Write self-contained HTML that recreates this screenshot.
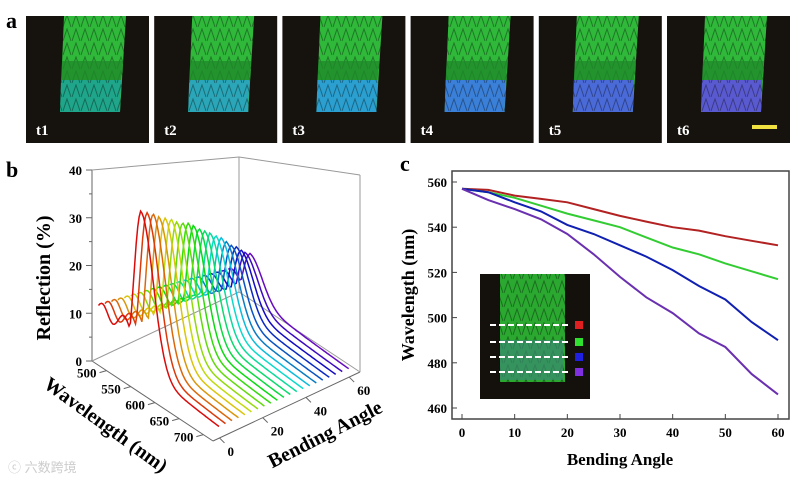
<!DOCTYPE html>
<html><head><meta charset="utf-8"><style>
html,body{margin:0;padding:0;background:#fff;}
svg{display:block;font-family:"Liberation Serif",serif;}
</style></head><body>
<svg width="790" height="481" viewBox="0 0 790 481">
<defs>
<pattern id="scales" width="9" height="14" patternUnits="userSpaceOnUse">
<path d="M0 13 L4 1 L8 13" stroke="rgba(0,0,0,0.35)" fill="none" stroke-width="1"/>
</pattern>
</defs>
<text x="6" y="28" font-size="22" font-weight="bold">a</text>
<g id="photos"></g>
<text x="6" y="177" font-size="22" font-weight="bold">b</text>
<g id="p3d"></g>
<text x="400" y="171" font-size="22" font-weight="bold">c</text>
<g id="pc"></g>
<text x="8" y="472" font-size="13" fill="#ccc" font-family="Liberation Sans, Noto Sans CJK SC, sans-serif">ⓒ 六数跨境</text>
</svg>
<script>
const NS="http://www.w3.org/2000/svg";
function mk(p,t,a){const e=document.createElementNS(NS,t);for(const k in a)e.setAttribute(k,a[k]);p.appendChild(e);return e;}
// ---------- panel a ----------
const frameLabels=["t1","t2","t3","t4","t5","t6"];
const bandColors=["#1fa58a","#2aa6b8","#2a9fd0","#3a7fd8","#4a6ad8","#5a5ad0"];
const ph=document.getElementById("photos");
frameLabels.forEach((l,i)=>{
 const x0=26+i*128.2,y0=16;
 const g=mk(ph,"g",{});
 
 
 mk(g,"rect",{x:x0,y:y0,width:123,height:127,fill:"#16120e"});
 mk(g,"polygon",{points:`${x0+38},${y0} ${x0+100},${y0} ${x0+94},${y0+96} ${x0+34},${y0+96}`,fill:"#2fb83a"});
 mk(g,"polygon",{points:`${x0+38},${y0} ${x0+100},${y0} ${x0+94},${y0+96} ${x0+34},${y0+96}`,fill:"url(#scales)"});
 mk(g,"polygon",{points:`${x0+36},${y0+45} ${x0+97},${y0+45} ${x0+95},${y0+64} ${x0+35},${y0+64}`,fill:"#1f8a2a",opacity:0.8});
 mk(g,"polygon",{points:`${x0+35},${y0+64} ${x0+95},${y0+64} ${x0+94},${y0+96} ${x0+34},${y0+96}`,fill:bandColors[i]});
 mk(g,"polygon",{points:`${x0+35},${y0+64} ${x0+95},${y0+64} ${x0+94},${y0+96} ${x0+34},${y0+96}`,fill:"url(#scales)"});
 const t=mk(g,"text",{x:x0+10,y:y0+119,"font-size":15,"font-weight":"bold",fill:"#fff"});t.textContent=l;
 
 
});
const sb=mk(ph,"rect",{x:752,y:125,width:25,height:4,fill:"#f0e040"});



// ---------- panel b (3D) ----------
const bendAngles=[0,3,6,9,12,15,18,21,24,27,30,33,36,39,42,45,48,51,54,57,60];
const peakWl=[557,556,555,554,553,552,550,549,547,545,543,541,539,537,535,532,529,526,522,518,514];
const peakRefl=[34,33.5,33,32,31.5,31,30,29.5,29,28,27,26,25,24,23,21.5,20,19,17.5,16,15];
const wlTicks=[500,550,600,650,700];
const angTicks=[0,20,40,60];
const reflTicks=[0,10,20,30,40];
const A={x:92,y:361};
function P(w,a,r){
 const u=(w-470)/250,v=(a+3)/68;
 const x=A.x+u*121+v*147, y=A.y+u*80-v*69;
 const s=191+39*u-56*v+23*u*v;
 return [x,y-r/40*s];
}
const b=document.getElementById("p3d");
const ln=(p,q,extra)=>mk(b,"line",Object.assign({x1:p[0],y1:p[1],x2:q[0],y2:q[1],stroke:"#666","stroke-width":1},extra||{}));
ln(P(470,-3,0),P(470,-3,40));
ln(P(470,-3,0),P(720,-3,0));
ln(P(720,-3,0),P(720,65,0));
ln(P(470,-3,0),P(470,65,0),{stroke:"#999"});
ln(P(470,65,0),P(470,65,40),{stroke:"#999"});
ln(P(470,65,0),P(720,65,0),{stroke:"#999"});
ln(P(470,-3,40),P(470,65,40),{stroke:"#999"});
ln(P(470,65,40),P(720,65,40),{stroke:"#999"});
ln(P(720,65,0),P(720,65,40),{stroke:"#999"});
reflTicks.forEach(r=>{const p=P(470,-3,r);ln([p[0]-6,p[1]],p);const t=mk(b,"text",{x:p[0]-10,y:p[1]+5,"font-size":13,"font-weight":"bold","text-anchor":"end"});t.textContent=r;});
[5,15,25,35].forEach(r=>{const p=P(470,-3,r);ln([p[0]-3,p[1]],p);});
wlTicks.forEach(w=>{const p=P(w,-3,0);ln([p[0]-7,p[1]+2],p);const t=mk(b,"text",{x:p[0]-10,y:p[1]+7,"font-size":13,"font-weight":"bold","text-anchor":"end"});t.textContent=w;});
angTicks.forEach(a=>{const p=P(720,a,0);ln(p,[p[0]+5,p[1]+5]);const t=mk(b,"text",{x:p[0]+8,y:p[1]+18,"font-size":13,"font-weight":"bold"});t.textContent=a;});
let t=mk(b,"text",{x:0,y:0,"font-size":20,"font-weight":"bold","text-anchor":"middle",transform:"translate(50,278) rotate(-90)"});t.textContent="Reflection (%)";

t=mk(b,"text",{x:0,y:0,"font-size":20,"font-weight":"bold","text-anchor":"middle",transform:"translate(102,430) rotate(36)"});t.textContent="Wavelength (nm)";

t=mk(b,"text",{x:0,y:0,"font-size":20,"font-weight":"bold","text-anchor":"middle",transform:"translate(328,440) rotate(-27)"});t.textContent="Bending Angle";

for(let i=bendAngles.length-1;i>=0;i--){
 const a=bendAngles[i],pw=peakWl[i],pr=peakRefl[i];
 let d="";
 for(let w=470;w<=720;w+=3){
  let r;
  if(w<pw){
   const g=pr*Math.exp(-Math.pow((w-pw)/20,2));
   const base=10.5+1.5*Math.cos((w-478)/7);
   r=Math.max(g,base*(pr/34*0.5+0.5));
  } else {
   r=(pr-4)*Math.exp(-Math.pow((w-pw)/36,2))+4*Math.exp(-(w-pw)/160)+0.5;
  }
  const p=P(w,a,r);d+=(d?"L":"M")+p[0].toFixed(1)+","+p[1].toFixed(1);
 }
 const hue=i/(bendAngles.length-1)*270;
 const c=mk(b,"path",{d:d,fill:"none",stroke:`hsl(${hue},90%,${hue>200?40:45}%)`,"stroke-width":1.5});
 
 
}

// ---------- panel c ----------
const angles=[0,5,10,15,20,25,30,35,40,45,50,55,60];
const redSeries=[557,556.5,554,552.5,551,548,545,542.5,540,538.5,536,534,532];
const greenSeries=[557,555.5,553,549.5,546,543,540,535.5,531,528,524,520.5,517];
const blueSeries=[557,555.5,551,547,541,537,532,527,521,514,508,498,490];
const purpleSeries=[557,552,548,543.5,537,528,518,509,502,493,487,475,466];
const xTicks=[0,10,20,30,40,50,60];
const yTicks=[460,480,500,520,540,560];
const c=document.getElementById("pc");
const X=v=>462+v/60*316, Y=v=>182+(560-v)/100*226;
const fr=mk(c,"rect",{x:452,y:171,width:337,height:248,fill:"none",stroke:"#444","stroke-width":1.5});

xTicks.forEach(v=>{mk(c,"line",{x1:X(v),y1:419,x2:X(v),y2:414,stroke:"#444"});const t=mk(c,"text",{x:X(v),y:437,"font-size":13,"font-weight":"bold","text-anchor":"middle"});t.textContent=v;});
yTicks.forEach(v=>{mk(c,"line",{x1:452,y1:Y(v),x2:457,y2:Y(v),stroke:"#444"});const t=mk(c,"text",{x:447,y:Y(v)+5,"font-size":13,"font-weight":"bold","text-anchor":"end"});t.textContent=v;});
t=mk(c,"text",{x:620,y:465,"font-size":17,"font-weight":"bold","text-anchor":"middle"});t.textContent="Bending Angle";

t=mk(c,"text",{x:0,y:0,"font-size":18,"font-weight":"bold","text-anchor":"middle",transform:"translate(414,295) rotate(-90)"});t.textContent="Wavelength (nm)";

const ig=mk(c,"g",{});

mk(ig,"rect",{x:480,y:274,width:110,height:125,fill:"#14110c"});
mk(ig,"rect",{x:500,y:274,width:65,height:108,fill:"#2aa830"});
mk(ig,"rect",{x:500,y:274,width:65,height:108,fill:"url(#scales)"});
mk(ig,"rect",{x:500,y:340,width:63,height:40,fill:"#3a8a70",opacity:0.7});
const swatch=["#e02020","#30e030","#2020e0","#8030e0"];
[325,342,357,372].forEach((y,i)=>{mk(ig,"line",{x1:490,y1:y,x2:570,y2:y,stroke:"#fff","stroke-width":2,"stroke-dasharray":"6,3"});mk(ig,"rect",{x:575,y:y-4,width:8,height:8,fill:swatch[i]});});
[["red",redSeries,"#b22222"],["green",greenSeries,"#33cc33"],["blue",blueSeries,"#1020b0"],["purple",purpleSeries,"#6a30b0"]].forEach(([n,s,col])=>{
 const d=s.map((v,i)=>(i?"L":"M")+X(angles[i]).toFixed(1)+","+Y(v).toFixed(1)).join("");
 const p=mk(c,"path",{d:d,fill:"none",stroke:col,"stroke-width":2});
 
 
});
</script>
</body></html>
